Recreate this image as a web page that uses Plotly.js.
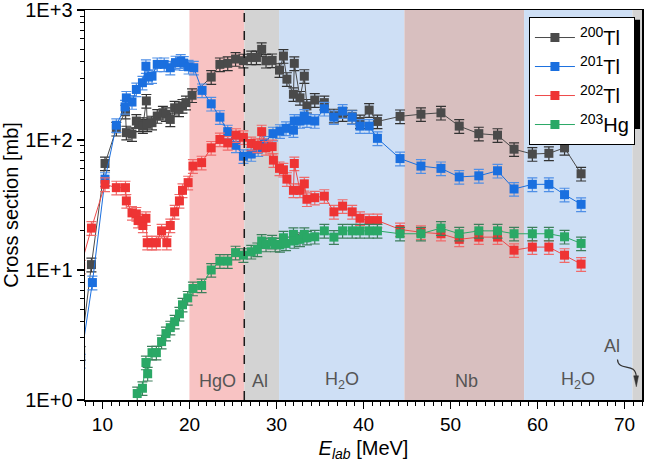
<!DOCTYPE html>
<html>
<head>
<meta charset="utf-8">
<script src="https://cdn.plot.ly/plotly-3.0.1.min.js"></script>
<style>
  html, body { margin: 0; padding: 0; background: #ffffff; }
  #chart { width: 645px; height: 464px; }
</style>
</head>
<body>
<div id="chart"></div>
<script>
// Excitation functions: beam energy (MeV) and cross sections (mb)
const e200 = [7.5, 8.74, 10.3, 11.6, 12.65, 12.75, 13.4, 13.9, 14.2, 14.65, 15.05, 15.15, 15.7, 16.3, 16.95, 17.3, 17.8, 18.3, 18.8, 19.2, 19.6, 20.3, 22.5, 23.5, 24.4, 25.3, 26.2, 27.1, 27.7, 28.3, 28.8, 29.5, 30.35, 30.8, 31.2, 31.95, 32.05, 32.7, 33.2, 33.5, 34.4, 35.5, 36.6, 37.6, 38.7, 39.6, 40.65, 41.6, 44.2, 46.6, 48.9, 51.0, 53.25, 55.4, 57.3, 59.4, 61.3, 63.1, 65.0];
const tl200 = [2.3, 11, 66, 122, 165, 114, 111, 140, 132, 128, 200, 132, 136, 153, 162, 158, 144, 177, 172, 183, 194, 221, 305, 382, 389, 420, 408, 432, 432, 499, 407, 410, 345, 443, 294, 225, 389, 211, 310, 183, 203, 194, 154, 158, 151, 139, 170, 139, 152, 158, 162, 128, 112, 109, 85, 78, 79, 87, 55];

const e201 = [7.5, 8.85, 10.3, 11.6, 12.6, 12.75, 13.4, 13.9, 14.6, 15.0, 15.3, 15.7, 16.3, 17.1, 17.8, 18.4, 19.0, 19.35, 19.9, 20.5, 21.45, 22.5, 23.5, 24.4, 25.35, 26.2, 27.1, 27.9, 28.6, 29.6, 30.4, 31.1, 31.95, 32.05, 32.7, 33.2, 33.5, 34.4, 35.5, 36.6, 37.6, 38.7, 39.6, 40.65, 41.6, 44.2, 46.6, 48.9, 51.0, 53.25, 55.4, 57.3, 59.4, 61.3, 63.1, 65.0];
const tl201 = [2.0, 8, 50, 130, 180, 211, 196, 245, 276, 370, 305, 310, 382, 382, 360, 394, 405, 391, 366, 360, 241, 190, 150, 116, 91, 75, 78, 85, 95, 112, 117, 123, 119, 140, 140, 153, 142, 140, 174, 150, 167, 150, 128, 128, 103, 72, 63, 60.5, 52, 53, 58, 42, 45.6, 45.6, 38, 32];

const e202 = [7.5, 8.74, 10.3, 11.6, 12.65, 12.75, 13.4, 13.9, 14.1, 14.65, 15.0, 15.15, 15.7, 16.2, 16.8, 17.4, 17.8, 18.3, 18.85, 19.2, 19.85, 20.4, 21.4, 22.5, 23.5, 24.4, 25.35, 26.2, 27.1, 27.8, 28.3, 28.8, 29.5, 29.65, 30.35, 30.8, 31.2, 31.95, 32.05, 32.7, 33.2, 33.5, 34.4, 35.5, 36.6, 37.6, 38.7, 39.6, 40.65, 41.6, 44.2, 46.6, 48.9, 51.0, 53.25, 55.4, 57.3, 59.4, 61.3, 63.1, 65.0];
const tl202 = [10.6, 21, 45.6, 43, 43, 34, 27.5, 27, 24, 22, 25, 16.2, 16.2, 16.2, 20, 16.2, 22, 28, 34, 41, 47, 63, 67, 87, 101, 95, 109, 105, 94, 91, 116, 87, 89, 70, 60.5, 59, 50, 41, 66, 41, 46, 35, 36, 37, 28, 31, 28, 25, 24, 24, 20.5, 19.5, 19, 17.2, 17.9, 17.9, 14.2, 15, 15, 13, 11.1];

const e203 = [14.0, 14.6, 15.0, 15.2, 15.7, 16.2, 16.8, 17.3, 17.8, 18.3, 18.85, 19.2, 19.8, 20.4, 21.4, 22.5, 23.5, 24.4, 25.3, 26.2, 27.1, 27.8, 28.3, 28.8, 29.5, 29.85, 30.4, 30.8, 31.1, 31.95, 32.05, 32.7, 33.2, 33.5, 34.4, 35.5, 36.6, 37.6, 38.7, 39.6, 40.65, 41.6, 44.2, 46.6, 48.9, 51.0, 53.25, 55.4, 57.3, 59.4, 61.3, 63.1, 65.0];
const hg203 = [1.12, 1.23, 1.94, 1.59, 2.31, 2.31, 2.81, 3.24, 3.6, 4.0, 4.6, 5.4, 6.1, 7.2, 7.6, 10, 11.7, 11.7, 13.6, 13.0, 13.8, 14.4, 16.7, 15.7, 16.5, 15.7, 15.6, 17.7, 16, 18.8, 16.7, 17.2, 18.8, 17.7, 18, 20, 17.9, 20, 20, 20, 20, 20, 19, 19, 21, 19, 20, 20, 19, 19, 19, 18, 16];

// Target stack layers along the energy axis (MeV)
const layerNames = ['HgO', 'Al', 'H<sub>2</sub>O', 'Nb', 'H<sub>2</sub>O', 'Al'];
const layerStart = [20.0, 26.3, 30.3, 44.7, 58.45, 70.9];
const layerEnd   = [26.3, 30.3, 44.7, 58.45, 70.9, 72.0];
const layerFill  = ['#f8c3c3', '#d3d3d3', '#cedff5', '#d8bfbf', '#cedff5', '#d3d3d3'];
const labelX     = [23.2, 28.1, 37.5, 51.8, 64.7];

// Axis ticks
const xMajor = [10, 20, 30, 40, 50, 60, 70];
const yMajor = [1, 10, 100, 1000];
const yMajorText = ['1E+0', '1E+1', '1E+2', '1E+3'];
const yMinor = [2, 3, 4, 5, 6, 7, 8, 9, 20, 30, 40, 50, 60, 70, 80, 90, 200, 300, 400, 500, 600, 700, 800, 900];

const FONT = 'Liberation Sans, Arial, sans-serif';

function series(x, y, name, rank, color, errColor, lineColor) {
  return {
    type: 'scatter', mode: 'lines+markers', x: x, y: y, name: name, legendrank: rank,
    line: { color: lineColor, width: 1 },
    marker: { symbol: 'square', size: 9, color: color },
    error_y: { type: 'percent', value: 12, color: errColor, thickness: 1.2, width: 5 }
  };
}

const traces = [
  series(e200, tl200, '<sup>200</sup>Tl', 1, '#4a4a4a', '#333333', '#4a4a4a'),
  series(e201, tl201, '<sup>201</sup>Tl', 2, '#1a6fdf', '#4f8fe6', '#1a6fdf'),
  series(e202, tl202, '<sup>202</sup>Tl', 3, '#ee3434', '#f06a6a', '#ee4a4a'),
  series(e203, hg203, '<sup>203</sup>Hg', 4, '#2aa866', '#3e7f5c', '#2aa866')
];

const shapes = layerStart.map((s, i) => ({
  type: 'rect', xref: 'x', yref: 'paper', x0: s, x1: layerEnd[i], y0: 0, y1: 1,
  fillcolor: layerFill[i], line: { width: 0 }, layer: 'below'
}));
// Boundary between the HgO target and the first Al degrader
shapes.push({ type: 'line', xref: 'x', yref: 'paper', x0: 26.3, x1: 26.3, y0: 0, y1: 1,
  line: { color: '#1a1a1a', width: 1.5, dash: 'dash' }, layer: 'above' });
// Curved pointer to the thin Al layer at the end of the stack
shapes.push({ type: 'path', xref: 'x', yref: 'paper',
  path: 'M 69.18,0.104 C 69.3,0.07 71.3,0.1 71.35,0.058',
  line: { color: '#333333', width: 1.2 }, layer: 'above' });
shapes.push({ type: 'path', xref: 'x', yref: 'paper',
  path: 'M 71.05,0.062 L 71.35,0.034 L 71.6,0.062 Z',
  fillcolor: '#333333', line: { color: '#333333', width: 0.5 }, layer: 'above' });
// Legend drop shadow
shapes.push({ type: 'rect', xref: 'paper', yref: 'paper', x0: 0.803, x1: 0.9965, y0: 0.695, y1: 0.975,
  fillcolor: '#000000', line: { width: 0 }, layer: 'above' });

const annotations = labelX.map((x, i) => ({
  x: x, y: 0.049, xref: 'x', yref: 'paper', text: layerNames[i], showarrow: false,
  font: { family: FONT, size: 18, color: '#555555' }, yanchor: 'middle'
}));
annotations.push({ x: 68.6, y: 0.138, xref: 'x', yref: 'paper', text: layerNames[5], showarrow: false,
  font: { family: FONT, size: 18, color: '#555555' }, yanchor: 'middle' });

const layout = {
  width: 645, height: 464,
  margin: { l: 85, r: 3, t: 10, b: 64 },
  paper_bgcolor: '#ffffff', plot_bgcolor: '#ffffff',
  font: { family: FONT, color: '#000000' },
  showlegend: true,
  legend: {
    x: 0.797, y: 0.982, xanchor: 'left', yanchor: 'top',
    bgcolor: '#ffffff', bordercolor: '#000000', borderwidth: 1,
    font: { family: FONT, size: 20, color: '#000000' },
    itemwidth: 40, tracegroupgap: 0
  },
  xaxis: {
    range: [8, 72], showgrid: false, zeroline: false,
    showline: true, linecolor: '#000000', linewidth: 1.5, mirror: true,
    ticks: 'outside', ticklen: 7, tickwidth: 1.3, tickcolor: '#000000',
    tickmode: 'array', tickvals: xMajor, ticklabeloverflow: 'allow',
    minor: { dtick: 1, ticks: 'outside', ticklen: 4, tickwidth: 1, tickcolor: '#000000', showgrid: false },
    tickfont: { family: FONT, size: 19, color: '#000000' },
    title: { text: '<i>E</i><sub><i>lab</i></sub> [MeV]', font: { family: FONT, size: 20, color: '#000000' }, standoff: 6 }
  },
  yaxis: {
    type: 'log', range: [-0.0005, 3.0005], showgrid: false, zeroline: false,
    showline: true, linecolor: '#000000', linewidth: 1.5, mirror: true,
    ticks: 'outside', ticklen: 7, tickwidth: 1.3, tickcolor: '#000000',
    tickmode: 'array', tickvals: yMajor, ticktext: yMajorText, ticklabeloverflow: 'allow',
    minor: { tickmode: 'array', tickvals: yMinor, ticks: 'outside', ticklen: 4, tickwidth: 1, tickcolor: '#000000', showgrid: false },
    tickfont: { family: FONT, size: 20, color: '#000000' },
    title: { text: 'Cross section [mb]', font: { family: FONT, size: 20, color: '#000000' }, standoff: 8 }
  },
  shapes: shapes,
  annotations: annotations
};

Plotly.newPlot('chart', traces, layout, { displayModeBar: false, staticPlot: true });
</script>
</body>
</html>
